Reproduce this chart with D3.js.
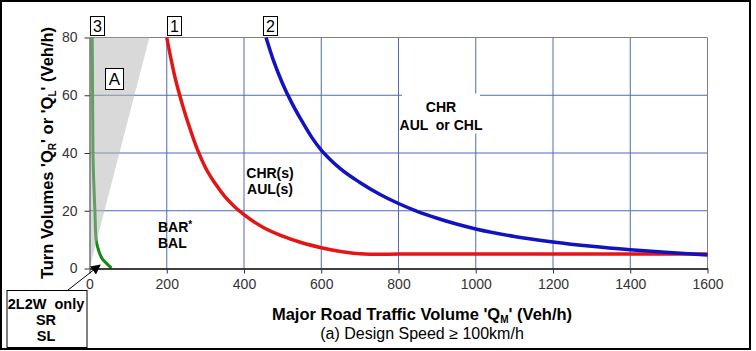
<!DOCTYPE html>
<html>
<head>
<meta charset="utf-8">
<script src="https://cdn.jsdelivr.net/npm/d3@7"></script>
<style>
  body { margin: 0; background: #fff; }
  svg { display: block; font-family: "Liberation Sans", Arial, sans-serif; }
  text { white-space: pre; }
</style>
</head>
<body>
<svg id="chart" width="756" height="351"></svg>
<script>
// Axis ticks
const xTicks = [0, 200, 400, 600, 800, 1000, 1200, 1400, 1600];
const yTicks = [0, 20, 40, 60, 80];

// Curve 1 (red) - major road volume vs turn volume
const curve1Volume = [200, 220, 240, 260, 280, 300, 325, 350, 375, 400, 450, 500, 550, 600, 650, 700, 750, 800, 1000, 1200, 1400, 1600];
const curve1Turn   = [80, 67, 57, 48.5, 41, 35, 29.5, 25, 21.5, 18.7, 14.2, 11.2, 8.9, 7.2, 5.9, 5.1, 4.9, 5, 5, 5, 5, 5];

// Curve 2 (blue)
const curve2Volume = [457, 475, 500, 525, 550, 575, 600, 625, 650, 700, 750, 800, 850, 900, 950, 1000, 1100, 1200, 1300, 1400, 1500, 1600];
const curve2Turn   = [80, 72.5, 64, 57, 51, 45.5, 41, 37.5, 34.5, 29.8, 25.8, 22.5, 19.7, 17.4, 15.4, 13.7, 11.1, 9.2, 7.7, 6.5, 5.5, 4.7];

// Curve 3 (green), listed from the top down
const curve3Volume = [7, 8, 9, 11, 14, 17, 21, 27, 35, 44, 57];
const curve3Turn   = [80, 60, 40, 30, 20, 10, 7.5, 5, 3, 1.8, 0.2];

// Shaded area A
const zoneAVolume = [0, 0, 155];
const zoneATurn   = [0, 80, 80];

function makeChart() {
    var svg = d3.select("#chart");

    var x = d3.scaleLinear()
        .domain([0, 1600])
        .range([89.5, 707.5]);

    var y = d3.scaleLinear()
        .domain([0, 80])
        .range([268.5, 37.5]);

    const gridColour = "#4a6cb3";

    // grid lines
    svg.append("g")
        .selectAll("line")
        .data(xTicks.slice(1, -1))
        .enter()
        .append("line")
        .attr("x1", d => x(d)).attr("x2", d => x(d))
        .attr("y1", y(0)).attr("y2", y(80))
        .attr("stroke", gridColour)
        .attr("stroke-width", 1);

    svg.append("g")
        .selectAll("line")
        .data(yTicks.slice(1, -1))
        .enter()
        .append("line")
        .attr("x1", x(0)).attr("x2", x(1600))
        .attr("y1", d => y(d)).attr("y2", d => y(d))
        .attr("stroke", gridColour)
        .attr("stroke-width", 1);

    // top and right edge of the plot
    svg.append("path")
        .attr("fill", "none")
        .attr("stroke", "#808080")
        .attr("stroke-width", 1)
        .attr("d", "M" + x(0) + "," + y(80) + "H" + x(1600) + "V" + y(0));

    // white box behind the CHR label covers the grid
    svg.append("rect")
        .attr("x", 402).attr("y", 93.5)
        .attr("width", 78).attr("height", 40)
        .attr("fill", "#fff");

    var lineMaker = d3.line()
        .x(d => x(d[0]))
        .y(d => y(d[1]));

    // green curve first, the grey zone sits over it
    svg.append("path")
        .attr("fill", "none")
        .attr("stroke", "#128a12")
        .attr("stroke-width", 3)
        .attr("d", lineMaker.curve(d3.curveMonotoneY)(d3.zip(curve3Volume, curve3Turn)));

    svg.append("path")
        .attr("fill", "#b4b4b4")
        .attr("fill-opacity", 0.5)
        .attr("d", d3.line().x(d => x(d[0])).y(d => y(d[1]))(d3.zip(zoneAVolume, zoneATurn)) + "Z");

    svg.append("path")
        .attr("fill", "none")
        .attr("stroke", "#e41515")
        .attr("stroke-width", 3.5)
        .attr("d", lineMaker.curve(d3.curveMonotoneX)(d3.zip(curve1Volume, curve1Turn)));

    svg.append("path")
        .attr("fill", "none")
        .attr("stroke", "#1212c0")
        .attr("stroke-width", 3.5)
        .attr("d", lineMaker.curve(d3.curveMonotoneX)(d3.zip(curve2Volume, curve2Turn)));

    // axes - plain numbers, no thousands comma
    var xAxis = d3.axisBottom(x)
        .tickValues(xTicks)
        .tickFormat(d3.format("d"))
        .tickSize(5)
        .tickSizeOuter(0)
        .tickPadding(6);

    var yAxis = d3.axisLeft(y)
        .tickValues(yTicks)
        .tickFormat(d3.format("d"))
        .tickSize(5)
        .tickSizeOuter(0)
        .tickPadding(7);

    var gx = svg.append("g")
        .attr("transform", "translate(0," + y(0) + ")")
        .call(xAxis);
    gx.select(".domain").attr("stroke", "#000").attr("stroke-width", 1.5);

    var gy = svg.append("g")
        .attr("transform", "translate(" + x(0) + ",0)")
        .call(yAxis);
    gy.select(".domain").attr("stroke", "#404040");

    [gx, gy].forEach(function (g) {
        g.attr("font-family", "Liberation Sans, Arial, sans-serif")
            .attr("font-size", 14);
        g.selectAll(".tick text").attr("fill", "#333");
        g.selectAll(".tick line").attr("stroke", "#333");
    });

    // axis titles
    var xt = svg.append("text")
        .attr("x", 422).attr("y", 320)
        .attr("text-anchor", "middle")
        .attr("font-weight", "bold")
        .attr("font-size", 16.5)
        .text("Major Road Traffic Volume 'Q");
    xt.append("tspan").attr("font-size", 10).attr("dy", 3).text("M");
    xt.append("tspan").attr("dy", -3).text("' (Veh/h)");

    svg.append("text")
        .attr("x", 422).attr("y", 339)
        .attr("text-anchor", "middle")
        .attr("font-size", 16)
        .text("(a) Design Speed \u2265 100km/h");

    var yt = svg.append("text")
        .attr("transform", "translate(53,153) rotate(-90)")
        .attr("text-anchor", "middle")
        .attr("font-weight", "bold")
        .attr("font-size", 16.5)
        .text("Turn Volumes 'Q");
    yt.append("tspan").attr("font-size", 10).attr("dy", 3).text("R");
    yt.append("tspan").attr("dy", -3).text("' or 'Q");
    yt.append("tspan").attr("font-size", 10).attr("dy", 3).text("L");
    yt.append("tspan").attr("dy", -3).text("' (Veh/h)");

    // region labels
    function bold(lines, cx, y0, step, anchor) {
        lines.forEach(function (t, i) {
            svg.append("text")
                .attr("x", cx).attr("y", y0 + i * step)
                .attr("text-anchor", anchor)
                .attr("font-weight", "bold")
                .attr("font-size", 14)
                .text(t);
        });
    }

    var bar = svg.append("text")
        .attr("x", 158).attr("y", 232)
        .attr("font-weight", "bold")
        .attr("font-size", 14)
        .text("BAR");
    bar.append("tspan").attr("font-size", 10).attr("dy", -4).text("*");
    bold(["BAL"], 158, 248, 16, "start");
    bold(["CHR(s)", "AUL(s)"], 270, 178, 16, "middle");
    bold(["CHR", "AUL  or CHL"], 441, 112, 18, "middle");

    // numbered boxes
    function boxLabel(t, bx, by, w, h, size) {
        svg.append("rect")
            .attr("x", bx).attr("y", by)
            .attr("width", w).attr("height", h)
            .attr("fill", "#fff")
            .attr("stroke", "#000")
            .attr("stroke-width", 1);
        svg.append("text")
            .attr("x", bx + w / 2).attr("y", by + h / 2)
            .attr("dy", "0.36em")
            .attr("text-anchor", "middle")
            .attr("font-size", size)
            .text(t);
    }
    boxLabel("3", 90.5, 16.5, 14, 19, 16);
    boxLabel("1", 167.5, 16.5, 14, 19, 16);
    boxLabel("2", 263.5, 16.5, 14, 19, 16);
    boxLabel("A", 105.5, 68.5, 18, 21, 17);

    // arrow to the origin
    svg.append("defs").append("marker")
        .attr("id", "head")
        .attr("viewBox", "0 0 10 10")
        .attr("refX", 9).attr("refY", 5)
        .attr("markerWidth", 10).attr("markerHeight", 10)
        .attr("markerUnits", "userSpaceOnUse")
        .attr("orient", "auto")
        .append("path")
        .attr("d", "M0,0L10,5L0,10Z")
        .attr("fill", "#000");

    svg.append("line")
        .attr("x1", 68).attr("y1", 290)
        .attr("x2", 100).attr("y2", 265)
        .attr("stroke", "#000")
        .attr("stroke-width", 1)
        .attr("marker-end", "url(#head)");

    svg.append("rect")
        .attr("x", 7).attr("y", 290.5)
        .attr("width", 80).attr("height", 57)
        .attr("fill", "#fff")
        .attr("stroke", "#000")
        .attr("stroke-width", 1);

    ["2L2W  only", "SR", "SL"].forEach(function (t, i) {
        svg.append("text")
            .attr("x", 46).attr("y", 309 + i * 16)
            .attr("text-anchor", "middle")
            .attr("font-weight", "bold")
            .attr("font-size", 14.5)
            .text(t);
    });

    // outer border
    svg.append("rect")
        .attr("x", 1).attr("y", 1)
        .attr("width", 749).attr("height", 348)
        .attr("fill", "none")
        .attr("stroke", "#000")
        .attr("stroke-width", 2);
}

makeChart();
</script>
</body>
</html>
